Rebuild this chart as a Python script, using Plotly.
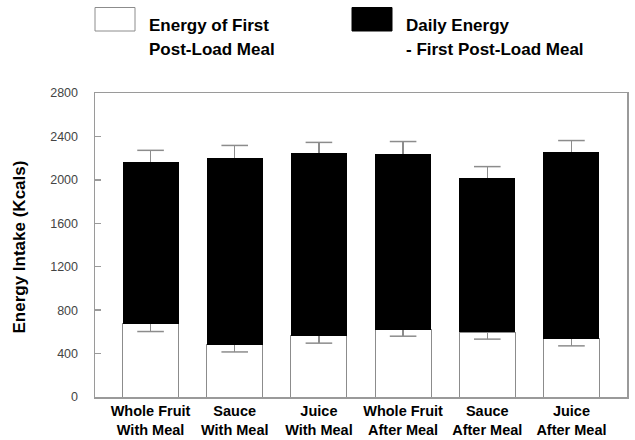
import plotly.graph_objects as go

# ---- data ----
categories = [
    "Whole Fruit<br>With Meal", "Sauce<br>With Meal", "Juice<br>With Meal",
    "Whole Fruit<br>After Meal", "Sauce<br>After Meal", "Juice<br>After Meal",
]
first_meal = [677, 480, 563, 621, 597, 536]          # white segment (kcal)
first_meal_sem = [74, 65, 67, 61, 64, 65]
daily_total = [2165, 2204, 2244, 2239, 2017, 2253]   # top of stacked bar (kcal)
daily_total_sem = [107, 113, 101, 114, 105, 109]
y_ticks = [0, 400, 800, 1200, 1600, 2000, 2400, 2800]
legend_white = ["Energy of First", "Post-Load Meal"]
legend_black = ["Daily Energy", "- First Post-Load Meal"]
y_title = "Energy Intake (Kcals)"

rest_of_day = [t - f for t, f in zip(daily_total, first_meal)]
white_caps = [f - e for f, e in zip(first_meal, first_meal_sem)]
black_caps = [t + e for t, e in zip(daily_total, daily_total_sem)]

# ---- styles / layout geometry ----
W, H = 635, 440
L, R, T, B = 95, 8, 93, 43
PW, PH = W - L - R, H - T - B
FONT = "Liberation Sans, Arial, sans-serif"
ERR = "#8c8c8c"
FRAME = "#9a9a9a"


def px_x(px):
    return (px - L) / PW


def px_y(py):
    return (H - B - py) / PH


fig = go.Figure()
fig.add_trace(go.Bar(
    x=categories, y=first_meal, name=" ".join(legend_white),
    marker=dict(color="white", line=dict(color="#8c8c8c", width=1)),
    error_y=dict(type="data", symmetric=False, array=[0] * len(first_meal),
                 arrayminus=first_meal_sem, width=0, color=ERR, thickness=1.5),
    showlegend=False, hoverinfo="skip",
))
fig.add_trace(go.Bar(
    x=categories, y=rest_of_day, name=" ".join(legend_black),
    marker=dict(color="black", line=dict(color="black", width=0)),
    error_y=dict(type="data", symmetric=False, array=daily_total_sem,
                 arrayminus=[0] * len(daily_total), width=0, color=ERR, thickness=1.5),
    showlegend=False, hoverinfo="skip",
))
for caps in (white_caps, black_caps):
    fig.add_trace(go.Scatter(
        x=categories, y=caps, mode="markers",
        marker=dict(symbol="line-ew", size=19, color=ERR,
                    line=dict(color=ERR, width=1.5)),
        showlegend=False, hoverinfo="skip",
    ))

# legend drawn as boxes + text
boxes = [(95, 135, "white"), (352, 392, "black")]
for x0, x1, col in boxes:
    fig.add_shape(type="rect", xref="paper", yref="paper",
                  x0=px_x(x0), x1=px_x(x1), y0=px_y(31), y1=px_y(7.5),
                  fillcolor=col, line=dict(color="#8c8c8c" if col == "white" else "black", width=1))
for x_left, lines in ((147, legend_white), (404, legend_black)):
    for i, txt in enumerate(lines):
        fig.add_annotation(text=txt, xref="paper", yref="paper",
                           x=px_x(x_left), y=px_y(25 + 24 * i),
                           xanchor="left", yanchor="middle", showarrow=False,
                           font=dict(family=FONT, size=17, color="black", weight="bold"))

fig.add_annotation(text=y_title, xref="paper", yref="paper",
                   x=px_x(18.5), y=px_y(247), textangle=-90,
                   xanchor="center", yanchor="middle", showarrow=False,
                   font=dict(family=FONT, size=17, color="black", weight="bold"))

fig.update_layout(
    width=W, height=H, margin=dict(l=L, r=R, t=T, b=B, autoexpand=False),
    barmode="stack", bargap=0.335,
    plot_bgcolor="white", paper_bgcolor="white",
    font=dict(family=FONT),
    showlegend=False, hovermode=False,
)
fig.update_xaxes(
    type="category", range=[-0.66, 5.66], automargin=False,
    showline=True, mirror=True, linecolor=FRAME, linewidth=1.5,
    ticks="", showgrid=False, zeroline=False,
    tickfont=dict(family=FONT, size=14.5, color="black", weight="bold"),
)
fig.update_yaxes(
    range=[0, 2800], tickvals=y_ticks, ticktext=[str(v) for v in y_ticks],
    automargin=False,
    showline=True, mirror=True, linecolor=FRAME, linewidth=1.5,
    ticks="inside", ticklen=6, tickcolor=FRAME, tickwidth=1.5,
    showgrid=False, zeroline=False, ticklabelstandoff=13,
    tickfont=dict(family=FONT, size=12.5, color="#444"),
)

fig.write_html(
    "out.html",
    config={"displayModeBar": False, "staticPlot": True},
    post_script="document.body.style.margin='0';document.body.style.overflow='hidden';",
)
